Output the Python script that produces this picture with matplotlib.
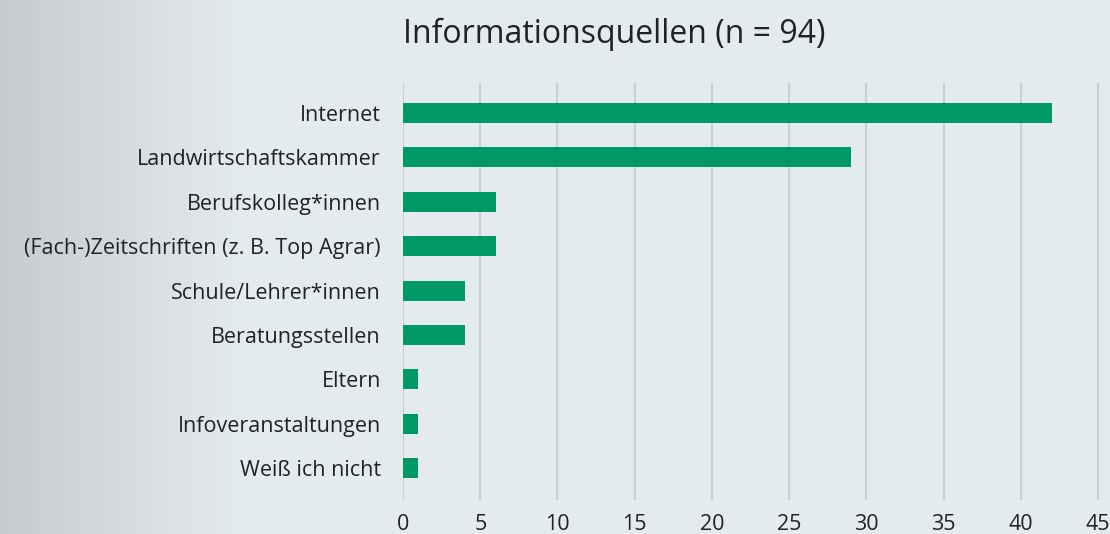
import matplotlib
matplotlib.use("Agg")
import matplotlib.pyplot as plt
import numpy as np

plt.rcParams['font.family'] = ['Open Sans', 'DejaVu Sans']

categories = ["Internet", "Landwirtschaftskammer", "Berufskolleg*innen",
              "(Fach-)Zeitschriften (z. B. Top Agrar)", "Schule/Lehrer*innen",
              "Beratungsstellen", "Eltern", "Infoveranstaltungen", "Weiß ich nicht"]
values = [42, 29, 6, 6, 4, 4, 1, 1, 1]
x_ticks = [0, 5, 10, 15, 20, 25, 30, 35, 40, 45]

fig = plt.figure(figsize=(11.1, 5.34), dpi=100)

# background gradient (grey on the left fading to light blue-grey)
bg = fig.add_axes([0, 0, 1, 1], zorder=-10)
left_col = np.array([199, 203, 207]) / 255
right_col = np.array([228, 235, 238]) / 255
t = np.clip(np.linspace(0, 1, 1110) / 0.22, 0, 1)
grad = left_col[None, :] * (1 - t[:, None]) + right_col[None, :] * t[:, None]
bg.imshow(grad[None, :, :], aspect="auto", extent=[0, 1, 0, 1])
bg.axis("off")

ax = fig.add_axes([0.3631, 0.0637, 0.633, 0.781])
ax.patch.set_alpha(0)
y = np.arange(len(categories))
ax.barh(y, values, height=0.45, color="#009966", zorder=3)
ax.set_ylim(8.72, -0.68)
ax.set_xlim(0, 45.5)
ax.set_xticks(x_ticks)
ax.set_yticks(y)
ax.set_yticklabels(categories, fontsize=15.5, color="#222222")
ax.set_xticklabels([str(v) for v in x_ticks], fontsize=15.5, color="#222222")
ax.tick_params(length=0, pad=16, axis="y")
ax.tick_params(length=0, pad=10, axis="x")
ax.grid(axis="x", color="#c8d0d4", linewidth=1.5, zorder=0)
for s in ax.spines.values():
    s.set_visible(False)

fig.text(0.553, 0.935, "Informationsquellen (n = 94)", ha="center", va="center",
         fontsize=23, color="#222222")

fig.savefig("out.png", dpi=100)
